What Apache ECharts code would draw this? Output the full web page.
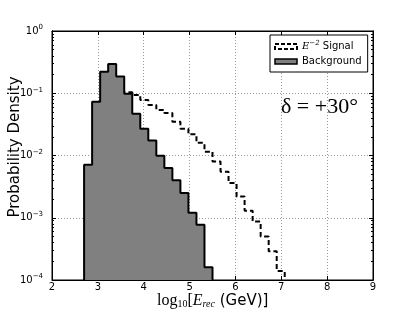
<!DOCTYPE html>
<html>
<head>
<meta charset="utf-8">
<script src="https://cdn.jsdelivr.net/npm/echarts@6/dist/echarts.min.js"></script>
<style>html,body{margin:0;padding:0;background:#fff}#c{width:415px;height:312px}</style>
</head>
<body>
<div id="c"></div>
<script>
// Histogram bin edges (log10 E_rec)
const binEdges = [2.7, 2.875, 3.05, 3.225, 3.4, 3.575, 3.75, 3.925, 4.1, 4.275, 4.45, 4.625, 4.8, 4.975, 5.15, 5.325, 5.5,
                  5.675, 5.85, 6.025, 6.2, 6.375, 6.55, 6.725, 6.9, 7.075];
// Background: bins starting at edge index 0
const backgroundStart = 0;
const backgroundValues = [0.0071, 0.073, 0.222, 0.295, 0.185, 0.098, 0.047, 0.027, 0.0174, 0.0099, 0.0063, 0.0040, 0.0025, 0.0012, 0.00077, 0.00016];
// E^-2 signal: visible bins starting at edge index 5 (3.575)
const signalStart = 5;
const signalValues = [0.104, 0.094, 0.078, 0.065, 0.054, 0.048, 0.035, 0.027, 0.022, 0.016, 0.0115, 0.008, 0.0055, 0.0036, 0.0022, 0.0013, 0.00087, 0.0005, 0.00029, 0.00014];
const xTicks = [2, 3, 4, 5, 6, 7, 8, 9];
const yMinorTicks = [];
for (let e = -4; e < 0; e++) for (let m = 2; m <= 9; m++) yMinorTicks.push(m * Math.pow(10, e));
const yFloor = 1e-4;

function stepData(start, values) {
  const d = [[binEdges[start], yFloor]];
  values.forEach((v, i) => d.push([binEdges[start + i], v]));
  d.push([binEdges[start + values.length], yFloor]);
  return d;
}

const chart = echarts.init(document.getElementById('c'), null, {renderer: 'canvas'});
const sans = 'DejaVu Sans';
const serif = 'DejaVu Serif';
const gridLine = {show: true, lineStyle: {color: '#999', type: [1, 2], width: 1}};
const yBase = {
  type: 'log', logBase: 10, min: 1e-4, max: 1, gridIndex: 0,
  axisLine: {show: true, lineStyle: {color: '#000', width: 1}}
};
const xBase = {
  type: 'value', min: 2, max: 9, interval: 1, gridIndex: 0,
  axisLine: {show: true, lineStyle: {color: '#000', width: 1}}
};

chart.setOption({
  animation: false,
  grid: {left: 52, right: 42, top: 31, bottom: 32, show: true, borderColor: '#000', borderWidth: 1,
         backgroundColor: 'transparent', containLabel: false, outerBoundsMode: 'none'},
  xAxis: [
    Object.assign({}, xBase, {
      position: 'bottom',
      axisTick: {show: true, inside: true, length: 4, lineStyle: {color: '#000'}},
      axisLabel: {show: true, margin: 2, fontFamily: sans, fontSize: 10, color: '#000',
        customValues: xTicks},
      splitLine: gridLine
    }),
    Object.assign({}, xBase, {
      position: 'top',
      axisTick: {show: true, inside: true, length: 4, lineStyle: {color: '#000'}},
      axisLabel: {show: false}, splitLine: {show: false}
    })
  ],
  yAxis: [
    Object.assign({}, yBase, {
      position: 'left',
      axisTick: {show: true, inside: true, length: 4, lineStyle: {color: '#000'}},
      axisLabel: {
        show: true, margin: 9, color: '#000', fontFamily: sans,
        formatter: v => '{b|10}{s|' + String(Math.round(Math.log10(v))).replace('-', '\u2212') + '}',
        rich: {b: {fontFamily: sans, fontSize: 10, color: '#000'},
               s: {fontFamily: sans, fontSize: 7, color: '#000', padding: [0, 0, 7, 0]}}
      },
      splitLine: gridLine
    }),
    Object.assign({}, yBase, {
      position: 'right',
      axisTick: {show: true, inside: true, length: 4, lineStyle: {color: '#000'}},
      axisLabel: {show: false}, splitLine: {show: false}
    }),
    Object.assign({}, yBase, {
      position: 'left',
      axisTick: {show: true, inside: true, length: 2, customValues: yMinorTicks, lineStyle: {color: '#000'}},
      axisLabel: {show: false}, splitLine: {show: false}
    }),
    Object.assign({}, yBase, {
      position: 'right',
      axisTick: {show: true, inside: true, length: 2, customValues: yMinorTicks, lineStyle: {color: '#000'}},
      axisLabel: {show: false}, splitLine: {show: false}
    })
  ],
  legend: {
    left: 270, top: 35, orient: 'vertical',
    padding: [5, 6, 5, 4], itemGap: 4, itemWidth: 22, itemHeight: 5,
    borderColor: '#000', borderWidth: 1, backgroundColor: '#fff',
    textStyle: {fontFamily: sans, fontSize: 10, color: '#000', lineHeight: 11,
      rich: {e: {fontFamily: serif, fontStyle: 'italic', fontSize: 10, color: '#000'},
             s: {fontFamily: serif, fontStyle: 'italic', fontSize: 7, color: '#000', padding: [0, 0, 6, 0]},
             n: {fontFamily: sans, fontSize: 10, color: '#000'}}},
    formatter: name => name === 'Signal' ? '{e|E}{s|\u22122} {n|Signal}' : name,
    data: [
      {name: 'Signal', icon: 'rect', itemStyle: {color: '#fff', borderColor: '#000', borderWidth: 2, borderType: [4, 2]}},
      {name: 'Background', icon: 'rect', itemStyle: {color: '#808080', borderColor: '#000', borderWidth: 1.5}}
    ]
  },
  series: [
    {
      name: 'Signal', type: 'line', step: 'end', xAxisIndex: 0, yAxisIndex: 0,
      symbol: 'none', color: '#000',
      lineStyle: {color: '#000', width: 2, type: [5, 3]},
      data: stepData(signalStart, signalValues), z: 2
    },
    {
      name: 'Background', type: 'line', step: 'end', xAxisIndex: 0, yAxisIndex: 0,
      symbol: 'none', color: '#808080',
      lineStyle: {color: '#000', width: 2},
      areaStyle: {color: '#808080', opacity: 1, origin: 'start'},
      data: stepData(backgroundStart, backgroundValues), z: 3
    }
  ],
  graphic: [
    {
      type: 'text', x: 15, y: 147, rotation: Math.PI / 2, z: 10,
      style: {text: 'Probability Density', fontFamily: sans, fontSize: 15, fill: '#000',
              align: 'center', verticalAlign: 'middle'}
    },
    {
      type: 'text', left: 281, top: 96, z: 10,
      style: {text: '\u03b4 = +30\u00b0', fontFamily: 'Liberation Serif', fontSize: 22, fill: '#000'}
    },
    {
      type: 'text', left: 157, top: 293, z: 10,
      style: {
        text: '{a|log}{sub|10}{a|[}{e|E}{sub2|rec}{g| (GeV)]}',
        rich: {
          a: {fontFamily: 'Liberation Serif', fontSize: 16, fill: '#000'},
          sub: {fontFamily: 'Liberation Serif', fontSize: 10, fill: '#000', padding: [6, 0, 0, 0]},
          e: {fontFamily: 'Liberation Serif', fontStyle: 'italic', fontSize: 16, fill: '#000'},
          sub2: {fontFamily: 'Liberation Serif', fontStyle: 'italic', fontSize: 10, fill: '#000', padding: [6, 0, 0, 0]},
          g: {fontFamily: sans, fontSize: 15, fill: '#000'}
        }
      }
    }
  ]
});
</script>
</body>
</html>
